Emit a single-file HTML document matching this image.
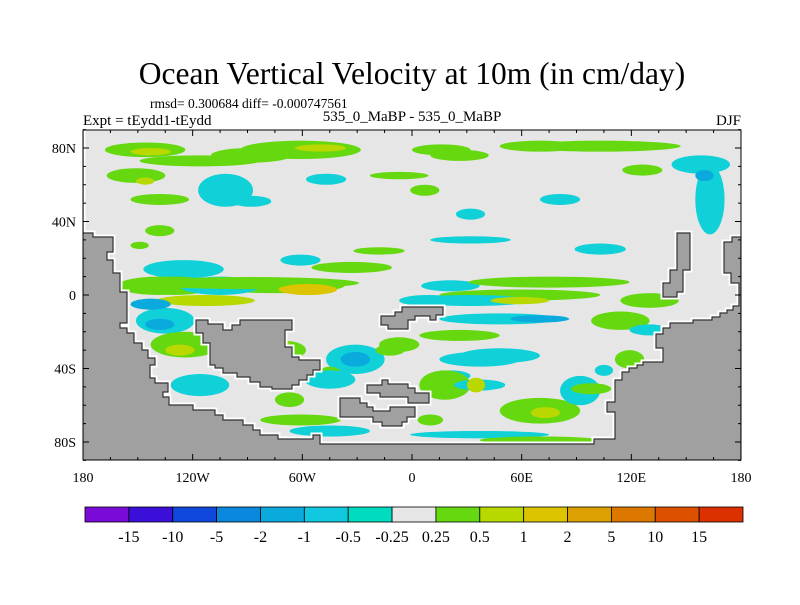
<!DOCTYPE html>
<html><head><meta charset="utf-8"><style>
body{margin:0;background:#fff;}
svg text{font-family:"Liberation Serif",serif;fill:#000;}
</style></head><body>
<svg id="c" width="800" height="600" viewBox="0 0 800 600">
<text x="412" y="84" font-size="31.5" text-anchor="middle">Ocean Vertical Velocity at 10m (in cm/day)</text>
<text x="150" y="108" font-size="13.5">rmsd= 0.300684 diff= -0.000747561</text>
<text x="83" y="125" font-size="15">Expt = tEydd1-tEydd</text>
<text x="412" y="121" font-size="15" text-anchor="middle">535_0_MaBP - 535_0_MaBP</text>
<text x="741" y="125" font-size="15" text-anchor="end">DJF</text>
<defs><clipPath id="pc"><rect x="83" y="130" width="658" height="330"/></clipPath></defs>
<rect x="83" y="130" width="658" height="330" fill="#e6e6e6"/>
<g id="blobs" clip-path="url(#pc)"></g>
<g id="land" clip-path="url(#pc)"></g>
<rect x="83" y="130" width="658" height="330" fill="none" stroke="#000" stroke-width="1"/>
<g id="axes"></g>
<g id="cbar"></g>
</svg>
<script>
const levels=[-15,-10,-5,-2,-1,-0.5,-0.25,0.25,0.5,1,2,5,10,15];
const cbColors=["#7a0ad8","#3a10d8","#1048dd","#0a88dd","#0aaadd","#10c8e0","#00dcc0","#e6e6e6","#66d810","#b8d800","#dcc400","#dca000","#dc7800","#dc5000","#dc3000"];
const latTicks=[80,40,0,-40,-80];
const latLabels=["80N","40N","0","40S","80S"];
const lonTicks=[-180,-120,-60,0,60,120,180];
const lonLabels=["180","120W","60W","0","60E","120E","180"];
// blobs: lon, lat, rxDeg, ryDeg, colour class (offset from neutral)
const blobLon=[-146,-143,-151,-146,-61,-88,-50,-138,-149,-102,-88,-47,7,-7,16,70,103,158,163,160,126,32,32,103,-125,-61,-33,-139,-75,-57,-113,-130,-105,21,75,75,59,59,48,70,9,26,114,130,-135,-138,-124,-127,-116,-69,-72,-31,-31,-12,-7,-45,21,18,35,37,48,-67,10,-45,70,73,92,98,119,105,37,-89,
 -89,32,-100,-45,37,-61,70,130,-116,26,-138,81,-18,-143];
const blobLat=[79,78,65,62,79,76,80,35,27,57,51,63,57,65,79,81,81,71,52,65,68,44,30,25,14,19,15,5,5,3,-3,5,5,5,7,7,0,-3,-13,-13,-3,-22,-14,-19,-14,-16,-27,-30,-49,-30,-27,-35,-35,-30,-27,-44,-44,-49,-49,-49,-33,-57,-68,-74,-63,-64,-52,-51,-35,-41,-76,-41,
 6.5,-3,-27,-46,-35,-68,-79,-3,73,76,52,52,24,-5];
const blobRx=[22,11,16,5,33,22,14,8,5,15,11,11,8,16,16,22,44,16,8,5,11,8,22,14,22,11,22,22,38,16,27,22,22,16,44,22,44,16,33,16,16,22,16,11,16,8,19,8,16,11,5,16,8,8,11,7,11,14,5,14,22,8,7,22,22,8,11,11,8,5,38,11,
 60,33,22,14,22,22,33,16,33,16,16,11,14,11];
const blobRy=[4,2,4,2,5,4,2,3,2,9,3,3,3,2,3,3,3,5,19,3,3,3,2,3,5,3,3,5,4,3,3,5,5,3,3,2,3,2,3,2,3,3,5,3,7,3,7,3,6,5,3,8,4,3,4,5,3,8,4,3,4,4,3,3,7,3,8,3,5,3,2,4,
 3.3,3,5,5,4,3,2,4,3,3,3,3,2,3];
const blobLvl=[1,2,1,2,1,1,2,1,1,-1,-1,-1,1,1,1,1,1,-1,-1,-2,1,-1,-1,-1,-1,-1,1,1,1,3,2,1,-1,-1,1,1,1,2,-1,-2,-1,1,1,-1,-1,-2,1,2,-1,1,2,-1,-2,1,1,1,-1,1,2,-1,-1,1,1,-1,1,2,-1,1,1,-1,-1,1,
 1,-1,1,-1,-1,1,1,1,1,1,1,-1,1,-2];
const NS="http://www.w3.org/2000/svg";
const X0=83,X1=741,YT=130,YB=460;
const xS=lon=>X0+(lon+180)/360*(X1-X0);
const yS=lat=>295-lat*1.8375;
const lvlColor={"-2":"#0aaadd","-1":"#10d0d8","1":"#66d810","2":"#b8d800","3":"#dcc400"};
const svg=document.getElementById('c');
function mk(t,a,p){const e=document.createElementNS(NS,t);for(const k in a)e.setAttribute(k,a[k]);(p||svg).appendChild(e);return e;}
const gb=document.getElementById('blobs');
const order=blobLon.map((_,i)=>i).sort((a,b)=>Math.abs(blobLvl[a])-Math.abs(blobLvl[b]));
order.forEach(i=>{
  const e=mk('ellipse',{cx:xS(blobLon[i]),cy:yS(blobLat[i]),rx:blobRx[i]*1.828,ry:blobRy[i]*1.8375,fill:lvlColor[String(blobLvl[i])]},gb);
  
  
});
const landPolys=[
"83,130 83,233 93,233 93,237 113,237 113,252 107,252 107,260 113,260 113,273 120,273 120,292 127,292 127,323 120,323 120,328 127,328 127,333 134,333 134,343 142,343 142,350 148,350 148,358 155,358 155,365 150,365 150,378 155,378 155,383 168,383 168,392 163,392 163,397 169,397 169,405 193,405 193,410 215,410 215,415 223,415 223,420 243,420 243,425 253,425 253,430 260,430 260,435 278,435 278,439 313,439 313,435 320,435 320,444 594,444 594,439 615,439 615,412 607,412 607,402 615,402 615,380 622,380 622,372 629,372 629,368 637,368 637,365 643,365 643,362 663,362 663,348 656,348 656,334 663,334 663,328 670,328 670,323 693,323 693,320 712,320 712,317 720,317 720,313 727,313 727,310 733,310 733,306 739,306 739,283 731,283 731,273 724,273 724,242 732,242 732,237 741,237 741,470 75,470 75,130",
"196,320 208,320 208,324 223,324 223,330 232,330 232,325 240,325 240,320 292,320 292,330 285,330 285,347 292,347 292,357 299,357 299,360 320,360 320,370 313,370 313,375 307,375 307,380 299,380 299,385 292,385 292,389 272,389 272,387 260,387 260,382 250,382 250,377 237,377 237,373 223,373 223,368 215,368 215,365 210,365 210,343 203,343 203,333 196,333",
"381,316 395,316 395,312 402,312 402,307 443,307 443,315 436,315 436,320 430,320 430,316 415,316 415,320 408,320 408,329 388,329 388,325 381,325",
"367,385 382,385 382,380 388,380 388,384 408,384 408,388 415,388 415,393 429,393 429,403 408,403 408,397 380,397 380,393 367,393",
"340,398 360,398 360,403 367,403 367,407 373,407 373,411 390,411 390,407 415,407 415,417 407,417 407,422 402,422 402,426 382,426 382,422 373,422 373,417 340,417",
"677,233 690,233 690,270 683,270 683,292 677,292 677,297 663,297 663,283 670,283 670,270 677,270"];
const gl=document.getElementById('land');
landPolys.forEach(p=>{mk('polygon',{points:p,fill:'none',stroke:'#fff','stroke-width':5,'stroke-linejoin':'miter'},gl);});
landPolys.forEach((p,i)=>{
  const e=mk('polygon',{points:p,fill:'#a0a0a0',stroke:'#333','stroke-width':1.2},gl);
  
  
});
const ga=document.getElementById('axes');
for(let lat=-90;lat<=90;lat+=10){const y=yS(lat);const maj=lat%40===0;
  mk('line',{x1:X0,x2:X0+(maj?6:3),y1:y,y2:y,stroke:'#000'},ga);mk('line',{x1:X1,x2:X1-(maj?6:3),y1:y,y2:y,stroke:'#000'},ga);}
for(let lon=-180;lon<=180;lon+=15){const x=xS(lon);const maj=lon%60===0;
  mk('line',{x1:x,x2:x,y1:YB,y2:YB-(maj?6:3),stroke:'#000'},ga);mk('line',{x1:x,x2:x,y1:YT,y2:YT+(maj?6:3),stroke:'#000'},ga);}
latTicks.forEach((v,i)=>{const t=mk('text',{x:76,y:yS(v)+5,'font-size':14,'text-anchor':'end'},ga);t.textContent=latLabels[i];
  
  });
lonTicks.forEach((v,i)=>{const t=mk('text',{x:xS(v),y:482,'font-size':14,'text-anchor':'middle'},ga);t.textContent=lonLabels[i];
  
  });
const gc=document.getElementById('cbar');
const cx0=85,cw=(743-85)/cbColors.length;
cbColors.forEach((c,i)=>{const r=mk('rect',{x:cx0+i*cw,y:507,width:cw,height:15,fill:c,stroke:'#000','stroke-width':0.8},gc);
  
  });
levels.forEach((v,i)=>{const t=mk('text',{x:cx0+(i+1)*cw,y:542,'font-size':16,'text-anchor':'middle'},gc);t.textContent=String(v);
  
  });
</script>
</body></html>
